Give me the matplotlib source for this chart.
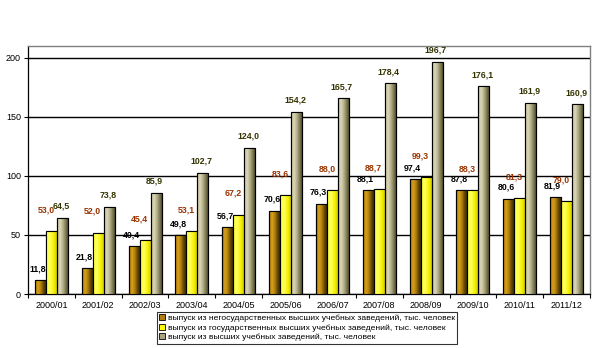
import matplotlib
matplotlib.use("Agg")
import matplotlib.pyplot as plt
import numpy as np
from matplotlib.colors import LinearSegmentedColormap
from matplotlib.patches import Rectangle

plt.rcParams['font.family'] = ['Liberation Sans', 'DejaVu Sans']

years = ["2000/01", "2001/02", "2002/03", "2003/04", "2004/05", "2005/06",
         "2006/07", "2007/08", "2008/09", "2009/10", "2010/11", "2011/12"]
nonstate = [11.8, 21.8, 40.4, 49.8, 56.7, 70.6, 76.3, 88.1, 97.4, 87.8, 80.6, 81.9]
state = [53.0, 52.0, 45.4, 53.1, 67.2, 83.6, 88.0, 88.7, 99.3, 88.3, 81.3, 79.0]
total = [64.5, 73.8, 85.9, 102.7, 124.0, 154.2, 165.7, 178.4, 196.7, 176.1, 161.9, 160.9]
legend_labels = [
    "выпуск из негосударственных высших учебных заведений, тыс. человек",
    "выпуск из государственных высших учебных заведений, тыс. человек",
    "выпуск из высших учебных заведений, тыс. человек",
]

fig = plt.figure(figsize=(6.02, 3.48), dpi=100)
ax = fig.add_axes([28/602, 1-294/348, (590-28)/602, (294-46)/348])

x = np.arange(len(years))
w = 0.235
cmaps = [
    LinearSegmentedColormap.from_list("s1", ["#9a6a08", "#d9a21a", "#b07d0c", "#5a4204", "#2e2600"]),
    LinearSegmentedColormap.from_list("s2", ["#ffff30", "#ffff60", "#f4f000", "#c8c000"]),
    LinearSegmentedColormap.from_list("s3", ["#b8b48c", "#dcd8b8", "#b4b08a", "#7a7650", "#3e3c20"]),
]
solid = ["#c08a10", "#ffff00", "#c0bc98"]
series = [nonstate, state, total]
label_colors = ["#000000", "#993300", "#333300"]
offsets = [(-2, 5), (-4, 12), (-1, 5)]

ax.set_xlim(-0.5, len(years) - 0.5)
ax.set_ylim(0, 210)

grad = np.linspace(0, 1, 64).reshape(1, -1)
for i, (vals, cm) in enumerate(zip(series, cmaps)):
    bars = ax.bar(x + (i - 1) * w, vals, width=w, color=solid[i],
                  edgecolor="black", linewidth=0.8, zorder=3)
    for b in bars:
        bx, by = b.get_x(), b.get_y()
        bw, bh = b.get_width(), b.get_height()
        im = ax.imshow(grad, cmap=cm, aspect="auto",
                       extent=(bx, bx + bw, by, by + bh), zorder=3.5)
        im.set_clip_path(b)
        ax.add_patch(Rectangle((bx, by), bw, bh, fill=False,
                               edgecolor="black", linewidth=0.8, zorder=4))
    for xi, v in zip(x, vals):
        ax.annotate(f"{v:.1f}".replace(".", ","), (xi + (i - 1) * w, v),
                    xytext=offsets[i], textcoords="offset points",
                    ha="center", va="bottom", fontsize=6.3,
                    fontweight="bold", color=label_colors[i], zorder=6)

ax.set_xlim(-0.5, len(years) - 0.5)
ax.set_ylim(0, 210)

ax.set_yticks([0, 50, 100, 150, 200])
ax.yaxis.grid(True, color="black", linewidth=1.0)
ax.set_axisbelow(True)
ax.tick_params(axis="y", labelsize=6.5, length=3, width=0.8, pad=2)
ax.set_xticks(x)
ax.set_xticklabels(years)
ax.set_xticks(np.arange(-0.5, len(years)), minor=True)
ax.tick_params(axis="x", which="major", length=0, labelsize=6.5, pad=5)
ax.tick_params(axis="x", which="minor", length=3, width=0.8, direction="out")
for s in ["left", "bottom"]:
    ax.spines[s].set_color("black")
    ax.spines[s].set_linewidth(0.9)
for s in ["top", "right"]:
    ax.spines[s].set_color("#808080")
    ax.spines[s].set_linewidth(1.0)

handles = [Rectangle((0, 0), 1, 1, facecolor=c, edgecolor="black", linewidth=0.6)
           for c in ["#b07d0c", "#ffff00", "#a8a480"]]
leg = fig.legend(handles, legend_labels, loc="upper left",
                 bbox_to_anchor=(157/602, 1-312/348), fontsize=6.1,
                 frameon=True, fancybox=False, edgecolor="black",
                 handlelength=0.7, handleheight=0.7, handletextpad=0.3,
                 labelspacing=0.18, borderpad=0.28, borderaxespad=0)
leg.get_frame().set_linewidth(0.8)

fig.savefig("out.png", dpi=100)
